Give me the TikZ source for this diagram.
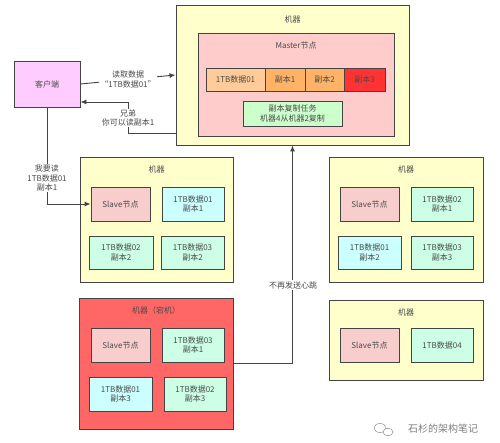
\documentclass[tikz,border=0pt]{standalone}
\usepackage{fontspec}
\setmainfont{Noto Sans CJK SC}
\usetikzlibrary{arrows.meta}
\definecolor{machfill}{HTML}{FFFFCC}
\definecolor{masterfill}{HTML}{FFCCCC}
\definecolor{datafill}{HTML}{FFCC99}
\definecolor{repfill}{HTML}{FFB366}
\definecolor{redfill}{HTML}{FF3333}
\definecolor{taskfill}{HTML}{CCFFCC}
\definecolor{slavefill}{HTML}{F8CECC}
\definecolor{cyanfill}{HTML}{CCFFFF}
\definecolor{mintfill}{HTML}{CCFFE6}
\definecolor{deadfill}{HTML}{FF6666}
\definecolor{clientfill}{HTML}{FFCCFF}
\definecolor{edgecol}{HTML}{444444}
\definecolor{txtcol}{HTML}{4A4A4A}
\begin{document}
\begin{tikzpicture}[x=1pt,y=-1pt,
  font=\fontsize{8}{9.5}\selectfont,
  box/.style={draw=edgecol, line width=0.9pt, inner sep=0pt, align=center, text=txtcol},
  machine/.style={box, fill=machfill},
  cell/.style={box, minimum height=34pt},
  ttl/.style={text=txtcol, inner sep=0pt},
  arr/.style={draw=edgecol, line width=0.9pt, -{Latex[length=6pt,width=5pt]}},
  lbl/.style={fill=white, align=center, text=txtcol, inner sep=1pt}]
\useasboundingbox (0,0) rectangle (500,443);
\fill[white] (0,0) rectangle (500,443);

% top machine with master
\node[machine, minimum width=233pt, minimum height=140pt] (top) at (292.5,75) {};
\node[ttl] (toptitle) at (292.5,19) {机器};
\node[box, fill=masterfill, minimum width=196pt, minimum height=103pt] (master) at (296,84.5) {};
\node[ttl] (mastertitle) at (296,45) {Master节点};
\node[box, fill=datafill, minimum width=59pt, minimum height=23pt] (c1) at (235.5,79.5) {1TB数据01};
\node[box, fill=repfill, minimum width=40pt, minimum height=23pt] (c2) at (285,79.5) {副本1};
\node[box, fill=repfill, minimum width=39pt, minimum height=23pt] (c3) at (324.5,79.5) {副本2};
\node[box, fill=redfill, minimum width=41pt, minimum height=23pt] (c4) at (364.5,79.5) {副本3};
\node[box, fill=taskfill, minimum width=99pt, minimum height=25pt] (task) at (292.5,113.5) {副本复制任务\\机器4从机器2复制};

% client
\node[box, fill=clientfill, minimum width=66pt, minimum height=46pt] (client) at (47,84) {客户端};

% machine 2
\node[machine, minimum width=153pt, minimum height=125pt] (m2) at (156.5,219.5) {};
\node[ttl] (m2title) at (156.5,169) {机器};
\node[cell, fill=slavefill, minimum width=59pt] (s2) at (120.5,204) {Slave节点};
\node[cell, fill=cyanfill, minimum width=62pt] (d2a) at (193,204) {1TB数据01\\副本1};
\node[cell, fill=mintfill, minimum width=64pt, minimum height=33pt] (d2b) at (121,252.5) {1TB数据02\\副本2};
\node[cell, fill=mintfill, minimum width=63pt, minimum height=33pt] (d2c) at (192.5,252.5) {1TB数据03\\副本2};

% machine 3
\node[machine, minimum width=154pt, minimum height=125pt] (m3) at (406,219.5) {};
\node[ttl] (m3title) at (406,169) {机器};
\node[cell, fill=slavefill, minimum width=59pt] (s3) at (369.5,204) {Slave节点};
\node[cell, fill=mintfill, minimum width=62pt] (d3a) at (442,204) {1TB数据02\\副本1};
\node[cell, fill=cyanfill, minimum width=63pt, minimum height=33pt] (d3b) at (369.5,252.5) {1TB数据01\\副本2};
\node[cell, fill=mintfill, minimum width=62pt, minimum height=33pt] (d3c) at (442,252.5) {1TB数据03\\副本3};

% dead machine
\node[box, fill=deadfill, minimum width=154pt, minimum height=131pt] (dead) at (156,363.5) {};
\node[ttl] (deadtitle) at (156,310) {机器（宕机）};
\node[cell, fill=slavefill, minimum width=59pt] (s4) at (120.5,345) {Slave节点};
\node[cell, fill=mintfill, minimum width=62pt] (d4a) at (193,345) {1TB数据03\\副本1};
\node[cell, fill=cyanfill, minimum width=63pt] (d4b) at (120.5,394) {1TB数据01\\副本3};
\node[cell, fill=mintfill, minimum width=62pt] (d4c) at (195,394) {1TB数据02\\副本3};

% machine 5
\node[machine, minimum width=154pt, minimum height=80pt] (m5) at (406,340) {};
\node[ttl] (m5title) at (406,312) {机器};
\node[cell, fill=slavefill, minimum width=59pt] (s5) at (369.5,345) {Slave节点};
\node[cell, fill=mintfill, minimum width=62pt] (d5) at (442,345) {1TB数据04};

% connectors
\draw[arr] (client.east) -- node[lbl] (l1) {读取数据\\“1TB数据01”} (top.west);
\coordinate (rstart) at (176,133);
\coordinate (rcorner) at (128,102);
\draw[arr] (rstart) -| (rcorner) -- (client.east |- rcorner);
\node[lbl] (l2) at (128,118) {兄弟\\你可以读副本1};
\draw[arr] (client.south) |- (s2.west);
\node[lbl] (l3) at (47,178) {我要读\\1TB数据01\\副本1};
\draw[arr] (dead.east) -| (top.south);
\node[lbl] (l4) at (293,285) {不再发送心跳};

% watermark
\begin{scope}[draw=black!45, line width=0.5pt]
\draw (380,428) ellipse (6pt and 4.5pt);
\draw[fill=white] (388,432) ellipse (5pt and 3.8pt);
\end{scope}
\node[text=black!50, font=\fontsize{10}{12}\selectfont, inner sep=0pt] (wm) at (443,429) {石杉的架构笔记};
\end{tikzpicture}
\end{document}
